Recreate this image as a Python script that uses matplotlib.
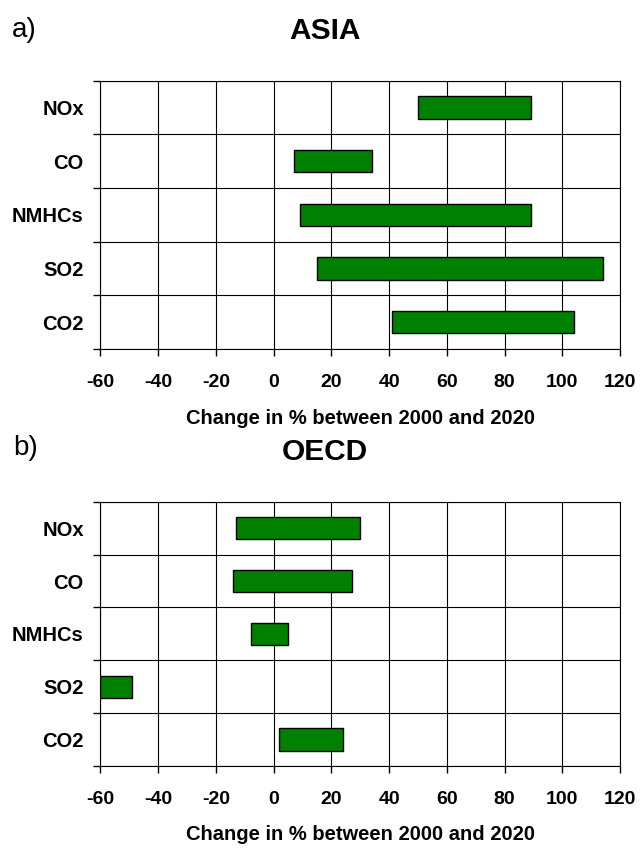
import matplotlib
matplotlib.use('Agg')
import matplotlib.pyplot as plt
import numpy as np

plt.rcParams['font.family'] = ['Liberation Sans', 'DejaVu Sans']

species = ['NOx', 'CO', 'NMHCs', 'SO2', 'CO2']
asia_low = [50, 7, 9, 15, 41]
asia_high = [89, 34, 89, 114, 104]
oecd_low = [-13, -14, -8, -60, 2]
oecd_high = [30, 27, 5, -49, 24]
xticks = [-60, -40, -20, 0, 20, 40, 60, 80, 100, 120]

fig = plt.figure(figsize=(6.4, 8.5), dpi=100)


def draw_panel(rect, low, high):
    ax = fig.add_axes(rect)
    y = np.arange(len(species))[::-1]
    ax.barh(y, np.array(high) - np.array(low), left=low, height=0.42,
            color='#008000', edgecolor='black', linewidth=1.0, zorder=3)
    ax.set_xlim(-60, 120)
    ax.set_ylim(-0.5, len(species) - 0.5)
    ax.set_xticks(xticks)
    ax.set_xticklabels([str(t) for t in xticks], fontsize=14, fontweight='bold')
    ax.set_yticks(y)
    ax.set_yticklabels(species, fontsize=14.5, fontweight='bold')
    ax.tick_params(axis='y', length=0, pad=12)
    ax.tick_params(axis='x', length=5, width=1, pad=13)
    # row separators with outward tick marks
    ax.set_yticks(np.arange(-0.5, len(species), 1), minor=True)
    ax.tick_params(axis='y', which='minor', length=5, width=1)
    ax.grid(axis='x', which='major', color='black', linewidth=0.8, zorder=0)
    ax.grid(axis='y', which='minor', color='black', linewidth=0.8, zorder=0)
    for s in ax.spines.values():
        s.set_linewidth(0.8)
    ax.set_xlabel('Change in % between 2000 and 2020', fontsize=14.5,
                  fontweight='bold', va='center')
    ax.xaxis.set_label_coords(0.5, -0.26)
    return ax


draw_panel([0.157, 0.5894, 0.812, 0.3157], asia_low, asia_high)
draw_panel([0.157, 0.099, 0.812, 0.3106], oecd_low, oecd_high)

fig.text(0.018, 0.965, 'a)', fontsize=20, va='center')
fig.text(0.508, 0.9635, 'ASIA', fontsize=21.5, fontweight='bold', ha='center', va='center')
fig.text(0.02, 0.473, 'b)', fontsize=20, va='center')
fig.text(0.508, 0.468, 'OECD', fontsize=21.5, fontweight='bold', ha='center', va='center')

fig.savefig('out.png', dpi=100)
